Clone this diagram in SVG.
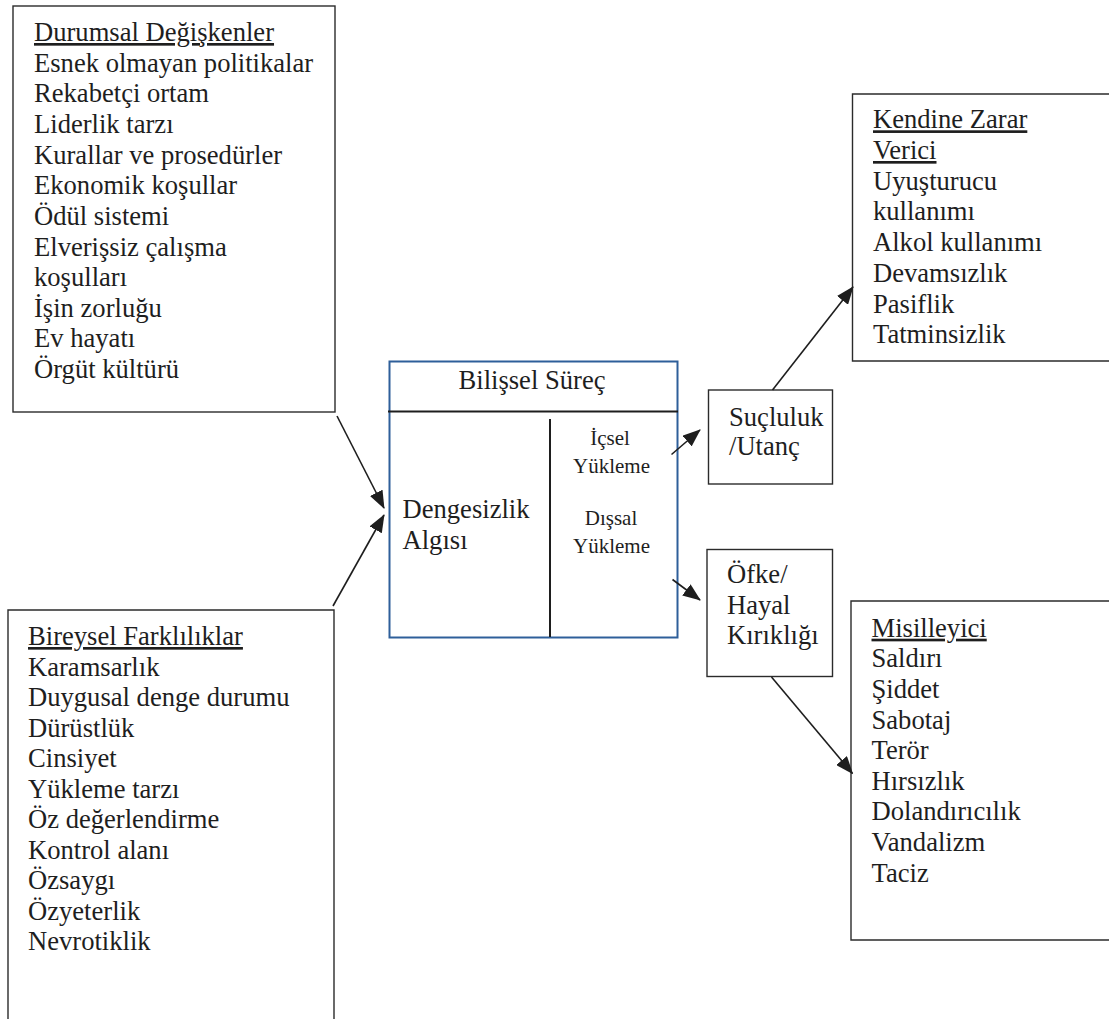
<svg xmlns="http://www.w3.org/2000/svg" width="1109" height="1019" viewBox="0 0 1109 1019">
<defs>
<style>
.box{fill:#fff;stroke:#2b2b2b;stroke-width:1.4}
.t{font-size:26.6px;fill:#1e1e1e}
.s{font-size:21px;fill:#1e1e1e}
.u{text-decoration:underline}
.c{fill:none;stroke:#1e1e1e;stroke-width:1.6}
</style>
<marker id="ah" markerUnits="userSpaceOnUse" markerWidth="18" markerHeight="14" refX="17" refY="7" orient="auto" viewBox="0 0 18 14">
<path d="M0,0 L18,7 L0,14 z" fill="#1e1e1e"/>
</marker>
</defs>
<rect width="1109" height="1019" fill="#fff"/>
<g font-family="Liberation Serif, Times New Roman, serif">

<g id="durumsal">
<rect class="box" x="13" y="6" width="322" height="406"/>
<text class="t" x="34" y="41"><tspan class="u">Durumsal Değişkenler</tspan><tspan x="34" dy="30.65">Esnek olmayan politikalar</tspan><tspan x="34" dy="30.65">Rekabetçi ortam</tspan><tspan x="34" dy="30.65">Liderlik tarzı</tspan><tspan x="34" dy="30.65">Kurallar ve prosedürler</tspan><tspan x="34" dy="30.65">Ekonomik koşullar</tspan><tspan x="34" dy="30.65">Ödül sistemi</tspan><tspan x="34" dy="30.65">Elverişsiz çalışma</tspan><tspan x="34" dy="30.65">koşulları</tspan><tspan x="34" dy="30.65">İşin zorluğu</tspan><tspan x="34" dy="30.65">Ev hayatı</tspan><tspan x="34" dy="30.65">Örgüt kültürü</tspan></text>
</g>

<g id="bireysel">
<path class="box" d="M8,1020 L8,610 L334,610 L334,1020"/>
<text class="t" x="28" y="645"><tspan class="u">Bireysel Farklılıklar</tspan><tspan x="28" dy="30.5">Karamsarlık</tspan><tspan x="28" dy="30.5">Duygusal denge durumu</tspan><tspan x="28" dy="30.5">Dürüstlük</tspan><tspan x="28" dy="30.5">Cinsiyet</tspan><tspan x="28" dy="30.5">Yükleme tarzı</tspan><tspan x="28" dy="30.5">Öz değerlendirme</tspan><tspan x="28" dy="30.5">Kontrol alanı</tspan><tspan x="28" dy="30.5">Özsaygı</tspan><tspan x="28" dy="30.5">Özyeterlik</tspan><tspan x="28" dy="30.5">Nevrotiklik</tspan></text>
</g>

<g id="bilissel">
<rect x="389.5" y="361.5" width="288" height="276" fill="#fff" stroke="#2e5f9a" stroke-width="2"/>
<line x1="388" y1="411.5" x2="678" y2="411.5" stroke="#1e1e1e" stroke-width="2"/>
<line x1="550" y1="419" x2="550" y2="637" stroke="#1e1e1e" stroke-width="2"/>
<text class="t" x="532" y="389" text-anchor="middle">Bilişsel Süreç</text>
<text class="t" x="402.5" y="518">Dengesizlik<tspan x="402.5" dy="31">Algısı</tspan></text>
<text class="s" x="610" y="445" text-anchor="middle">İçsel<tspan x="611.5" dy="27.7">Yükleme</tspan></text>
<text class="s" x="611" y="525" text-anchor="middle">Dışsal<tspan x="611.5" dy="28">Yükleme</tspan></text>
</g>

<g id="sucluluk">
<rect class="box" x="708.5" y="390" width="124" height="94"/>
<text class="t" x="729" y="426">Suçluluk<tspan x="729" dy="29">/Utanç</tspan></text>
</g>

<g id="ofke">
<rect class="box" x="707" y="549.5" width="125.5" height="127"/>
<text class="t" x="727" y="583">Öfke/<tspan x="727" dy="30.7">Hayal</tspan><tspan x="727" dy="30.7">Kırıklığı</tspan></text>
</g>

<g id="kendine">
<path class="box" d="M1110,94 L852.5,94 L852.5,361 L1110,361"/>
<text class="t" x="873" y="128.3"><tspan class="u">Kendine Zarar</tspan><tspan x="873" dy="30.7" class="u">Verici</tspan><tspan x="873" dy="30.7">Uyuşturucu</tspan><tspan x="873" dy="30.7">kullanımı</tspan><tspan x="873" dy="30.7">Alkol kullanımı</tspan><tspan x="873" dy="30.7">Devamsızlık</tspan><tspan x="873" dy="30.7">Pasiflik</tspan><tspan x="873" dy="30.7">Tatminsizlik</tspan></text>
</g>

<g id="misilleyici">
<path class="box" d="M1110,601 L851,601 L851,940 L1110,940"/>
<text class="t" x="871.5" y="636.7"><tspan class="u">Misilleyici</tspan><tspan x="871.5" dy="30.6">Saldırı</tspan><tspan x="871.5" dy="30.6">Şiddet</tspan><tspan x="871.5" dy="30.6">Sabotaj</tspan><tspan x="871.5" dy="30.6">Terör</tspan><tspan x="871.5" dy="30.6">Hırsızlık</tspan><tspan x="871.5" dy="30.6">Dolandırıcılık</tspan><tspan x="871.5" dy="30.6">Vandalizm</tspan><tspan x="871.5" dy="30.6">Taciz</tspan></text>
</g>
</g>

<g id="connectors">
<line class="c" x1="337" y1="416" x2="384" y2="508" marker-end="url(#ah)"/>
<line class="c" x1="333" y1="606" x2="384" y2="515" marker-end="url(#ah)"/>
<line class="c" x1="671.5" y1="454.5" x2="700" y2="430" marker-end="url(#ah)"/>
<line class="c" x1="672.5" y1="579.5" x2="700" y2="600" marker-end="url(#ah)"/>
<line class="c" x1="772.5" y1="390" x2="853" y2="287" marker-end="url(#ah)"/>
<line class="c" x1="771.5" y1="677" x2="852.5" y2="773.5" marker-end="url(#ah)"/>
</g>
</svg>
